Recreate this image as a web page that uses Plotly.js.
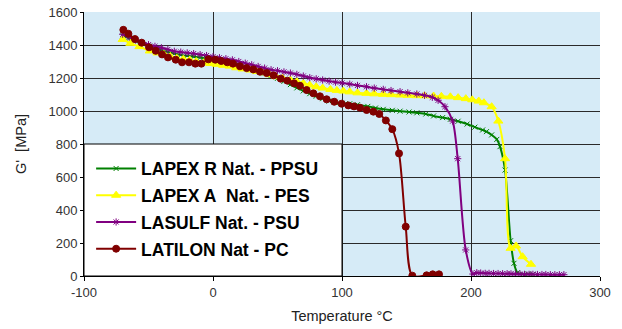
<!DOCTYPE html>
<html>
<head>
<meta charset="utf-8">
<script src="https://cdn.plot.ly/plotly-3.0.1.min.js"></script>
<style>html,body{margin:0;padding:0;background:#fff;}#chart{width:622px;height:329px;}</style>
</head>
<body>
<div id="chart"></div>
<script>
// Series names
const seriesNames = ["LAPEX R Nat. - PPSU", "LAPEX A&nbsp; Nat. - PES", "LASULF Nat. - PSU", "LATILON Nat - PC"];

// LAPEX R Nat. - PPSU (green)
const ppsuT = [-70,-65,-60,-55,-50,-45,-40,-35,-30,-25,-20,-15,-10,-5,0,5,10,15,20,25,30,35,40,45,50,55,60,65,70,75,80,85,90,95,100,106,112,120,126,132,139,145,152,158,165,171,178,184,190,197,203,209,212,216,220,222.5,226.4,230.7,233.3,236,240,244,248];
const ppsuG = [1455,1440,1424,1408,1393,1380,1368,1358,1348,1340,1334,1329,1324,1318,1312,1305,1298,1290,1280,1268,1255,1243,1230,1215,1198,1180,1160,1140,1122,1105,1090,1075,1060,1052,1047,1044,1038,1028,1018,1010,1004,999,994,989,982,970,960,950,938,921,902,885,875,855,828,784,642,214,77,20,10,12,10];

// LAPEX A Nat. - PES (yellow)
const pesT = [-70,-64,-57,-49,-43,-38,-33,-28,-23,-18,-13,-7,-2,3,8,13,18,23,29,34,39,44,49,54,60,65,70,75,80,85,91,96,101,106,112,119,125,132,138,145,151,158,164,171,177,184,190,196,201,206,210,216,221.2,226.4,230.7,234.9,240,246.5];
const pesG = [1434,1410,1390,1364,1352,1343,1330,1319,1314,1309,1300,1293,1288,1283,1277,1272,1262,1255,1248,1240,1232,1220,1208,1198,1188,1178,1168,1157,1147,1139,1131,1125,1121,1116,1110,1107,1104,1101,1099,1097,1095,1093,1092,1091,1089,1086,1081,1075,1068,1060,1050,1026,939,711,168,182,117,71];

// LASULF Nat. - PSU (purple)
const psuT = [-70,-65,-60,-55,-50,-45,-40,-35,-30,-25,-20,-15,-10,-5,0,5,10,15,20,25,30,35,40,45,50,55,60,65,70,75,80,85,90,95,100,106,112,119,125,132,138,145,151,158,164,170,174.5,179.8,185.8,189.7,195.9,201.5,204.5,207.5,211,214,217.5,221,224.5,228,231,234.5,238,241.5,245,248,251.5,255,258,261.5,265,268.5,272];
const psuG = [1465,1448,1430,1415,1402,1392,1383,1373,1362,1357,1352,1348,1342,1336,1329,1323,1317,1310,1300,1290,1280,1270,1260,1250,1244,1237,1230,1222,1212,1202,1195,1188,1181,1175,1170,1163,1155,1147,1139,1131,1124,1117,1110,1103,1095,1083,1065,1026,939,711,158,12,20,18,16,16,15,15,14,14,13,12,11,10,10,10,9,9,9,8,8,8,8];

// LATILON Nat - PC (dark red)
const pcT = [-69.5,-65.6,-60.5,-55.3,-49.6,-44.4,-39.5,-34.9,-28.9,-24,-18.6,-13.7,-9,-3.6,1.8,6.4,11.1,15.5,20.9,26.1,31.2,36.4,41.6,47,52.5,57.6,62.8,67.4,72.6,77.8,82.9,88.1,94,99.7,104.9,109.3,114,119.1,124.3,128.9,134,139,144.2,149.4,154.5,165.6,170.3,175.2];
const pcG = [1492,1468,1436,1414,1386,1365,1343,1325,1311,1295,1295,1287,1287,1313,1311,1303,1295,1287,1271,1260,1252,1238,1230,1216,1196,1184,1168,1153,1127,1107,1089,1071,1056,1044,1034,1028,1020,1006,996,982,943,890,743,299,2,4,10,10];

// Axis ticks
const xTicks = [-100, 0, 100, 200, 300];
const yTicks = [0, 200, 400, 600, 800, 1000, 1200, 1400, 1600];

const FONT = "'Liberation Sans', Arial, sans-serif";

function mk(name, x, y, color, symbol, msize, group) {
  return {
    type: 'scatter', mode: 'lines+markers', name: name, x: x, y: y,
    legendgroup: group,
    line: {color: color, width: 2, shape: 'spline', smoothing: 0.8},
    marker: {color: color, symbol: symbol, size: msize, line: {color: color, width: 1}}
  };
}

const traces = [
  mk(seriesNames[0], ppsuT, ppsuG, '#008000', 'x-thin-open', 5, 'a'),
  mk(seriesNames[1], pesT, pesG, '#ffff00', 'triangle-up', 8, 'b'),
  mk(seriesNames[2], psuT, psuG, '#800080', 'asterisk-open', 6, 'c'),
  mk(seriesNames[3], pcT, pcG, '#800000', 'circle', 7, 'd')
];

const layout = {
  width: 622, height: 329,
  margin: {l: 84, r: 22, t: 12, b: 53},
  paper_bgcolor: '#ffffff',
  plot_bgcolor: '#d6ebf7',
  font: {family: FONT, size: 13, color: '#333333'},
  showlegend: true,
  legend: {
    x: 0.0138, y: 0.475, xanchor: 'left', yanchor: 'top',
    bgcolor: 'rgba(0,0,0,0)', borderwidth: 0,
    font: {family: FONT, size: 17.5, color: '#000000', weight: 'bold'},
    tracegroupgap: 1, itemwidth: 40
  },
  xaxis: {
    range: [-100, 300], tickvals: xTicks, ticktext: xTicks.map(String),
    showgrid: true, gridcolor: '#2a2a2a', gridwidth: 1,
    zeroline: false, showline: true, linecolor: '#000', linewidth: 1,
    ticks: 'outside', ticklen: 4, tickcolor: '#000',
    tickfont: {family: FONT, size: 13, color: '#333'},
    title: {text: 'Temperature °C', font: {family: FONT, size: 14.5, color: '#222'}, standoff: 12}
  },
  yaxis: {
    range: [0, 1600], tickvals: yTicks, ticktext: yTicks.map(String),
    showgrid: true, gridcolor: '#2a2a2a', gridwidth: 1,
    zeroline: false, showline: true, linecolor: '#000', linewidth: 1,
    ticks: 'outside', ticklen: 3, tickcolor: '#000',
    tickfont: {family: FONT, size: 13, color: '#333'},
    title: {text: "G'&nbsp; [MPa]", font: {family: FONT, size: 14.5, color: '#222'}, standoff: 18}
  },
  shapes: [{
    type: 'rect', xref: 'x', yref: 'y', x0: -100, x1: 100, y0: 0, y1: 800,
    fillcolor: '#ffffff', line: {color: '#000000', width: 1}, layer: 'above'
  }]
};

Plotly.newPlot('chart', traces, layout, {displayModeBar: false, staticPlot: true});
</script>
</body>
</html>
